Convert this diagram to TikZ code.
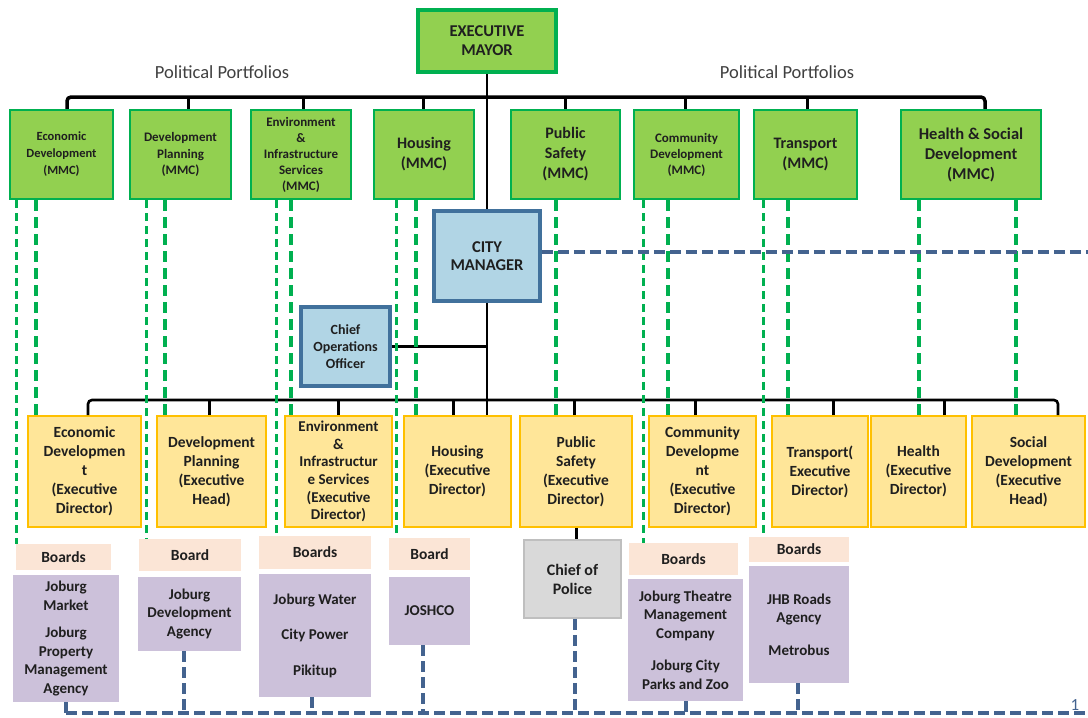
\documentclass[tikz,border=0pt]{standalone}
\usepackage{fontspec}
\setmainfont{Carlito}

\definecolor{mmcgreen}{HTML}{92D050}
\definecolor{linegreen}{HTML}{00B050}
\definecolor{cmblue}{HTML}{B1D5E5}
\definecolor{cmborder}{HTML}{41719C}
\definecolor{edyellow}{HTML}{FFE699}
\definecolor{edborder}{HTML}{FFC000}
\definecolor{boardpeach}{HTML}{FBE5D6}
\definecolor{entitypurple}{HTML}{CCC1DA}
\definecolor{policegrey}{HTML}{D9D9D9}
\definecolor{policeborder}{HTML}{BFBFBF}
\definecolor{dashblue}{HTML}{44638F}
\definecolor{inktext}{HTML}{1F1F1F}
\definecolor{portfoliotext}{HTML}{404040}

\begin{document}
\begin{tikzpicture}[x=1pt,y=-1pt,
  every node/.style={inner sep=0pt, align=center, text=inktext},
  bsize/.style 2 args={font=\bfseries\fontsize{#1}{#2}\selectfont},
  mmc/.style={draw=linegreen, line width=2.5pt, fill=mmcgreen, minimum height=89pt},
  manager/.style={draw=cmborder, line width=3.5pt, fill=cmblue},
  director/.style={draw=edborder, line width=1.8pt, fill=edyellow, minimum height=111pt, bsize={15.5}{19}},
  boards/.style={fill=boardpeach, bsize={15.5}{18}},
  entity/.style={fill=entitypurple, bsize={15}{18.5}},
  orgline/.style={line width=2.6pt, rounded corners=4pt},
  mmcdash/.style={draw=linegreen, line width=4.5pt, dash pattern=on 11pt off 6pt},
  boarddash/.style={draw=linegreen, line width=2.8pt, dash pattern=on 8pt off 5pt},
  bluedash/.style={draw=dashblue, line width=4pt, dash pattern=on 11pt off 5pt}]
\useasboundingbox (0,0) rectangle (1088,718);

% mayor and portfolio committees
\node[mmc, line width=4.5pt, minimum width=138pt, minimum height=62pt, bsize={16.5}{19}] (mayor) at (487,41) {EXECUTIVE\\MAYOR};
\node[font=\fontsize{18.5}{20}\selectfont, text=portfoliotext] (ppLeft) at (222,72) {Political Portfolios};
\node[font=\fontsize{18.5}{20}\selectfont, text=portfoliotext] (ppRight) at (787,72) {Political Portfolios};

\node[mmc, minimum width=103pt, bsize={12.5}{17}] (mmcEcon) at (61.5,154.5) {Economic\\Development\\(MMC)};
\node[mmc, minimum width=101pt, bsize={13}{16.5}] (mmcDev) at (180.5,154.5) {Development\\Planning\\(MMC)};
\node[mmc, minimum width=100pt, bsize={13}{16}] (mmcEnv) at (301,154.5) {Environment\\\&\\Infrastructure\\Services\\(MMC)};
\node[mmc, minimum width=100pt, bsize={16}{20}] (mmcHousing) at (424,154.5) {Housing\\(MMC)};
\node[mmc, minimum width=109pt, bsize={16}{20}] (mmcSafety) at (565.5,154.5) {Public\\Safety\\(MMC)};
\node[mmc, minimum width=105pt, bsize={13}{16}] (mmcComm) at (686.5,154.5) {Community\\Development\\(MMC)};
\node[mmc, minimum width=103pt, bsize={16}{20}] (mmcTransport) at (805.5,154.5) {Transport\\(MMC)};
\node[mmc, minimum width=140pt, bsize={16.5}{20}] (mmcHealth) at (971,154.5) {Health \& Social\\Development\\(MMC)};

% administration
\node[manager, minimum width=106pt, minimum height=90pt, bsize={16.5}{18.5}] (cm) at (487,256) {CITY\\MANAGER};
\node[manager, minimum width=89pt, minimum height=79pt, bsize={14}{17}] (coo) at (345.5,346.5) {Chief\\Operations\\Officer};

\node[director, minimum width=113pt] (edEcon) at (84.5,471.5) {Economic\\Developmen\\t\\(Executive\\Director)};
\node[director, minimum width=109pt] (edDev) at (211.5,471.5) {Development\\Planning\\(Executive\\Head)};
\node[director, minimum width=107pt, bsize={15}{17.6}] (edEnv) at (338.5,471.5) {Environment\\\&\\Infrastructur\\e Services\\(Executive\\Director)};
\node[director, minimum width=107pt] (edHousing) at (457.5,471.5) {Housing\\(Executive\\Director)};
\node[director, minimum width=112pt] (edSafety) at (576,471.5) {Public\\Safety\\(Executive\\Director)};
\node[director, minimum width=107pt] (edComm) at (702.5,471.5) {Community\\Developme\\nt\\(Executive\\Director)};
\node[director, minimum width=96pt] (edTransport) at (820,471.5) {Transport(\\Executive\\Director)};
\node[director, minimum width=95pt] (edHealth) at (918.5,471.5) {Health\\(Executive\\Director)};
\node[director, minimum width=113pt] (edSocial) at (1028.5,471.5) {Social\\Development\\(Executive\\Head)};

% boards and entities
\node[boards, minimum width=95pt, minimum height=26pt] (bdEcon) at (63.5,557) {Boards};
\node[entity, minimum width=106pt, minimum height=127pt] (enEcon) at (66,638.5) {Joburg\\Market\\[9pt]Joburg\\Property\\Management\\Agency};
\node[boards, minimum width=102pt, minimum height=32pt] (bdDev) at (190,555) {Board};
\node[entity, minimum width=103pt, minimum height=74pt] (enDev) at (189.5,614) {Joburg\\Development\\Agency};
\node[boards, minimum width=112pt, minimum height=33pt] (bdEnv) at (315,552.5) {Boards};
\node[entity, minimum width=112pt, minimum height=123pt] (enEnv) at (315,635.5) {Joburg Water\\[17pt]City Power\\[17pt]Pikitup};
\node[boards, minimum width=81pt, minimum height=32pt] (bdHousing) at (429.5,554) {Board};
\node[entity, minimum width=81pt, minimum height=68pt] (enHousing) at (429.5,611) {JOSHCO};
\node[draw=policeborder, line width=1.5pt, fill=policegrey, minimum width=97pt, minimum height=78pt, bsize={16}{19}] (police) at (572.5,579) {Chief of\\Police};
\node[boards, minimum width=109pt, minimum height=32pt] (bdComm) at (683.5,559) {Boards};
\node[entity, minimum width=115pt, minimum height=122pt] (enComm) at (685.5,640) {Joburg Theatre\\Management\\Company\\[14pt]Joburg City\\Parks and Zoo};
\node[boards, minimum width=100pt, minimum height=25pt] (bdTransport) at (799,549.5) {Boards};
\node[entity, minimum width=100pt, minimum height=117pt] (enTransport) at (799,624.5) {JHB Roads\\Agency\\[14pt]Metrobus};

% reporting lines
\coordinate (topbar) at (487,97);
\coordinate (edbar) at (487,400);
\draw[orgline, line width=3.5pt] ([xshift=5.5pt]mmcEcon.north) |- (topbar) -| ([xshift=14pt]mmcHealth.north);
\foreach \m/\dx in {mmcDev/7.5, mmcEnv/2, mmcHousing/-1, mmcSafety/0, mmcComm/-1.5, mmcTransport/1.5}
  \draw[orgline, line width=3pt] ([xshift=\dx pt]\m.north) -- ([xshift=\dx pt]\m.north |- topbar);
\draw[orgline] (mayor.south) -- (cm.north);
\draw[orgline] (cm.south) -- (cm.south |- edHousing.north);
\draw[orgline] (coo.east) -- (coo.east -| cm.south);
\draw[orgline] ([xshift=3.5pt]edEcon.north) |- (edbar) -| ([xshift=29.5pt]edSocial.north);
\foreach \m/\dx in {edDev/-2.5, edEnv/0, edHousing/-4.5, edSafety/-2, edComm/-7.5, edTransport/13, edHealth/25.5}
  \draw[orgline, line width=3pt] ([xshift=\dx pt]\m.north) -- ([xshift=\dx pt]\m.north |- edbar);
\draw[orgline, line width=3pt] (edSafety.south) -- (edSafety.south |- police.north);

% oversight by the portfolio committees
\foreach \m/\b/\dx in {mmcEcon/bdEcon/8, mmcDev/bdDev/18, mmcEnv/bdEnv/27, mmcHousing/bdHousing/24, mmcComm/bdComm/11, mmcTransport/bdTransport/11}
  \draw[boarddash] ([xshift=\dx pt]\m.south west) -- ([xshift=\dx pt]\m.south west |- \b.north);
\foreach \m/\e/\dx in {mmcEcon/edEcon/27, mmcDev/edDev/36, mmcEnv/edEnv/41, mmcHousing/edHousing/43, mmcSafety/edSafety/46, mmcComm/edComm/35, mmcTransport/edTransport/35, mmcHealth/edHealth/19, mmcHealth/edSocial/116}
  \draw[mmcdash] ([xshift=\dx pt]\m.south west) -- ([xshift=\dx pt]\m.south west |- \e.north);

% entity reporting
\coordinate (cmEdge) at (1088,252);
\coordinate (busWest) at (66,713);
\coordinate (busEast) at (1088,713);
\draw[bluedash] ([yshift=4pt]cm.east) -- (cmEdge);
\draw[bluedash, line width=3.5pt] (busWest) -- (busEast);
\foreach \e/\dx in {enEcon/0, enDev/-6, enEnv/-3, enHousing/-6.5, police/2.5, enComm/0, enTransport/-1}
  \draw[bluedash] ([xshift=\dx pt]\e.south) -- ([xshift=\dx pt]\e.south |- busWest);
\node[text=dashblue, font=\fontsize{17}{17}\selectfont] (pageNo) at (1075,705) {1};
\end{tikzpicture}
\end{document}
